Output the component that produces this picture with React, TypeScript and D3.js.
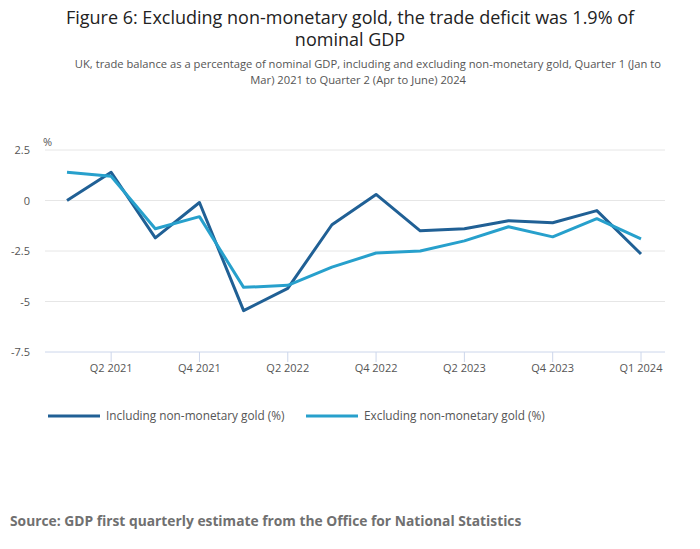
import * as d3 from "d3"

const quarters = ["Q1 2021","Q2 2021","Q3 2021","Q4 2021","Q1 2022","Q2 2022","Q3 2022","Q4 2022","Q1 2023","Q2 2023","Q3 2023","Q4 2023","Q1 2024","Q2 2024"]
const tickLabels = ["", "Q2 2021", "", "Q4 2021", "", "Q2 2022", "", "Q4 2022", "", "Q2 2023", "", "Q4 2023", "", "Q1 2024"]
const including = [0.0, 1.4, -1.85, -0.1, -5.45, -4.35, -1.2, 0.3, -1.5, -1.4, -1.0, -1.1, -0.5, -2.65]
const excluding = [1.4, 1.2, -1.4, -0.8, -4.3, -4.2, -3.3, -2.6, -2.5, -2.0, -1.3, -1.8, -0.9, -1.9]
const yTicks = [2.5, 0, -2.5, -5, -7.5]

const font = "'Open Sans', sans-serif"

export default function App() {
  const x = d3.scalePoint<string>().domain(quarters).range([67, 641])
  const y = d3.scaleLinear().domain([-7.5, 2.5]).range([352, 150])
  const line = d3.line<number>().x((_, i) => x(quarters[i])!).y(d => y(d))
  const series = [
    { name: "Including non-monetary gold (%)", values: including, color: "#206095" },
    { name: "Excluding non-monetary gold (%)", values: excluding, color: "#27a0cc" },
  ]
  return (
    <svg width={700} height={549} style={{ position: "absolute", left: 0, top: 0, fontFamily: font }}>
      <rect width={700} height={549} fill="#fff" />
      <text x={350} y={24} textAnchor="middle" fontSize={18} fill="#222">Figure 6: Excluding non-monetary gold, the trade deficit was 1.9% of</text>
      <text x={350} y={46} textAnchor="middle" fontSize={18} fill="#222">nominal GDP</text>
      <text x={661} y={68} textAnchor="end" fontSize={11.2} fill="#555">UK, trade balance as a percentage of nominal GDP, including and excluding non-monetary gold, Quarter 1 (Jan to</text>
      <text x={466} y={84} textAnchor="end" fontSize={11.2} fill="#555">Mar) 2021 to Quarter 2 (Apr to June) 2024</text>
      <text x={43} y={146} fontSize={11} fill="#555">%</text>
      {yTicks.map(t => (
        <g key={t}>
          <line x1={45} x2={665} y1={y(t)} y2={y(t)} stroke={t === -7.5 ? "#ccd6eb" : "#e6e6e6"} />
          <text x={30} y={y(t) + 4} textAnchor="end" fontSize={11} fill="#555">{t}</text>
        </g>
      ))}
      {quarters.map((q, i) => tickLabels[i] ? (
        <g key={q}>
          <line x1={x(q)} x2={x(q)} y1={352} y2={362} stroke="#ccd6eb" />
          <text x={x(q)} y={372} textAnchor="middle" fontSize={11} fill="#555">{tickLabels[i]}</text>
        </g>
      ) : null)}
      {series.map(s => (
        <path key={s.name} d={line(s.values)!} fill="none" stroke={s.color} strokeWidth={3} strokeLinejoin="round" />
      ))}
      {series.map((s, i) => (
        <g key={s.name} transform={`translate(${48 + i * 258},416)`}>
          <line x1={0} x2={52} y1={0} y2={0} stroke={s.color} strokeWidth={3} />
          <text x={58} y={4} fontSize={11.8} fill="#555">{s.name}</text>
        </g>
      ))}
      <text x={10} y={526} fontSize={13.8} fontWeight={700} fill="#707070">Source: GDP first quarterly estimate from the Office for National Statistics</text>
    </svg>
  )
}
